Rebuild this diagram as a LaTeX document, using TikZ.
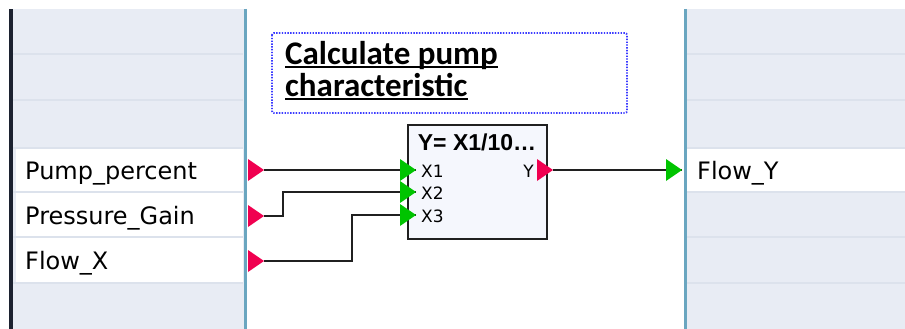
\documentclass[tikz,border=0pt]{standalone}
\usepackage{fontspec}
\setmainfont{DejaVu Sans}
\newfontfamily\titlefont{Carlito}
\newfontfamily\blockfont{Liberation Sans}
\usetikzlibrary{calc}
\definecolor{panelgrey}{RGB}{232,236,244}
\definecolor{rowline}{RGB}{220,226,236}
\definecolor{laneblue}{RGB}{106,166,192}
\definecolor{darkbar}{RGB}{28,34,48}
\definecolor{portred}{RGB}{240,0,80}
\definecolor{portgreen}{RGB}{0,196,0}
\definecolor{dotblue}{RGB}{60,60,255}
\definecolor{blockfill}{RGB}{245,247,253}
\definecolor{wire}{RGB}{32,32,32}
\tikzset{
  lbl/.style={anchor=base west,inner sep=0pt,font=\fontsize{24}{28}\selectfont},
  portlbl/.style={inner sep=0pt,font=\fontsize{17}{20}\selectfont},
  ttl/.style={anchor=base west,inner sep=0pt,font=\titlefont\bfseries\fontsize{33}{36}\selectfont},
  wirestyle/.style={draw=wire,line width=1.6pt},
  redtri/.style={fill=portred},
  greentri/.style={fill=portgreen},
}
\newcommand\porttri[2]{\fill[#2] (#1) -- ++(-16,-11) -- ++(0,22) -- cycle;}
\begin{document}
\begin{tikzpicture}[x=1pt,y=-1pt]
\useasboundingbox (0,0) rectangle (905,329);
\fill[white] (0,0) rectangle (905,329);
% left panel
\fill[panelgrey] (13,9) rectangle (244,329);
\fill[white] (16,148) rectangle (243,283);
\foreach \yy in {54,100,148,192,237,283} \draw[rowline,line width=1.5pt] (13,\yy) -- (243,\yy);
\fill[darkbar] (9,9) rectangle (13,329);
% right panel
\fill[panelgrey] (687,9) rectangle (905,329);
\fill[white] (687,148) rectangle (905,192);
\foreach \yy in {54,100,148,192,237,283} \draw[rowline,line width=1.5pt] (687,\yy) -- (905,\yy);
% lane lines
\draw[laneblue,line width=3pt] (245,9) -- (245,329);
\draw[laneblue,line width=3pt] (685,9) -- (685,329);
% labels
\node[lbl] (lp) at (25,179) {Pump\_percent};
\node[lbl] (lg) at (25,224) {Pressure\_Gain};
\node[lbl] (lf) at (25,269) {Flow\_X};
\node[lbl] (ly) at (697,179) {Flow\_Y};
% title
\draw[dotblue,line width=1.8pt,dash pattern=on 1.4pt off 1.4pt,rounded corners=2pt] (272,33) rectangle (627,113);
\node[ttl] (t1) at (285,64) {Calculate pump};
\node[ttl] (t2) at (285,96) {characteristic};
\draw[black,line width=1.6pt] ([yshift=-3]t1.base west) -- ([yshift=-3]t1.base east);
\draw[black,line width=1.6pt] ([yshift=-3]t2.base west) -- ([yshift=-3]t2.base east);
% block
\node[draw=wire,line width=2pt,fill=blockfill,minimum width=139pt,minimum height=114pt,inner sep=0pt,anchor=north west] (blk) at (407,124) {};
\node[inner sep=0pt,font=\blockfont\bfseries\fontsize{23}{25}\selectfont] (bt) at (477,142) {Y= X1/10…};
\node[portlbl,anchor=west] (lx1) at (421,171) {X1};
\node[portlbl,anchor=west] (lx2) at (421,193) {X2};
\node[portlbl,anchor=west] (lx3) at (421,216) {X3};
\node[portlbl,anchor=east] (lyy) at (534,171) {Y};
% port points
\coordinate (inP) at (264,170);
\coordinate (inG) at (264,216);
\coordinate (inF) at (264,261);
\coordinate (x1) at (416,170);
\coordinate (x2) at (416,192);
\coordinate (x3) at (416,215);
\coordinate (yo) at (553,170);
\coordinate (outY) at (682,170);
\coordinate (bendG) at (283,216);
\coordinate (bendF) at (352,261);
% wires
\draw[wirestyle] (inP) -- (x1);
\draw[wirestyle] (inG) -- (bendG) |- (x2);
\draw[wirestyle] (inF) -- (bendF) |- (x3);
\draw[wirestyle] (yo) -- (outY);
% triangles
\porttri{inP}{redtri}
\porttri{inG}{redtri}
\porttri{inF}{redtri}
\porttri{x1}{greentri}
\porttri{x2}{greentri}
\porttri{x3}{greentri}
\porttri{yo}{redtri}
\porttri{outY}{greentri}
\end{tikzpicture}
\end{document}
